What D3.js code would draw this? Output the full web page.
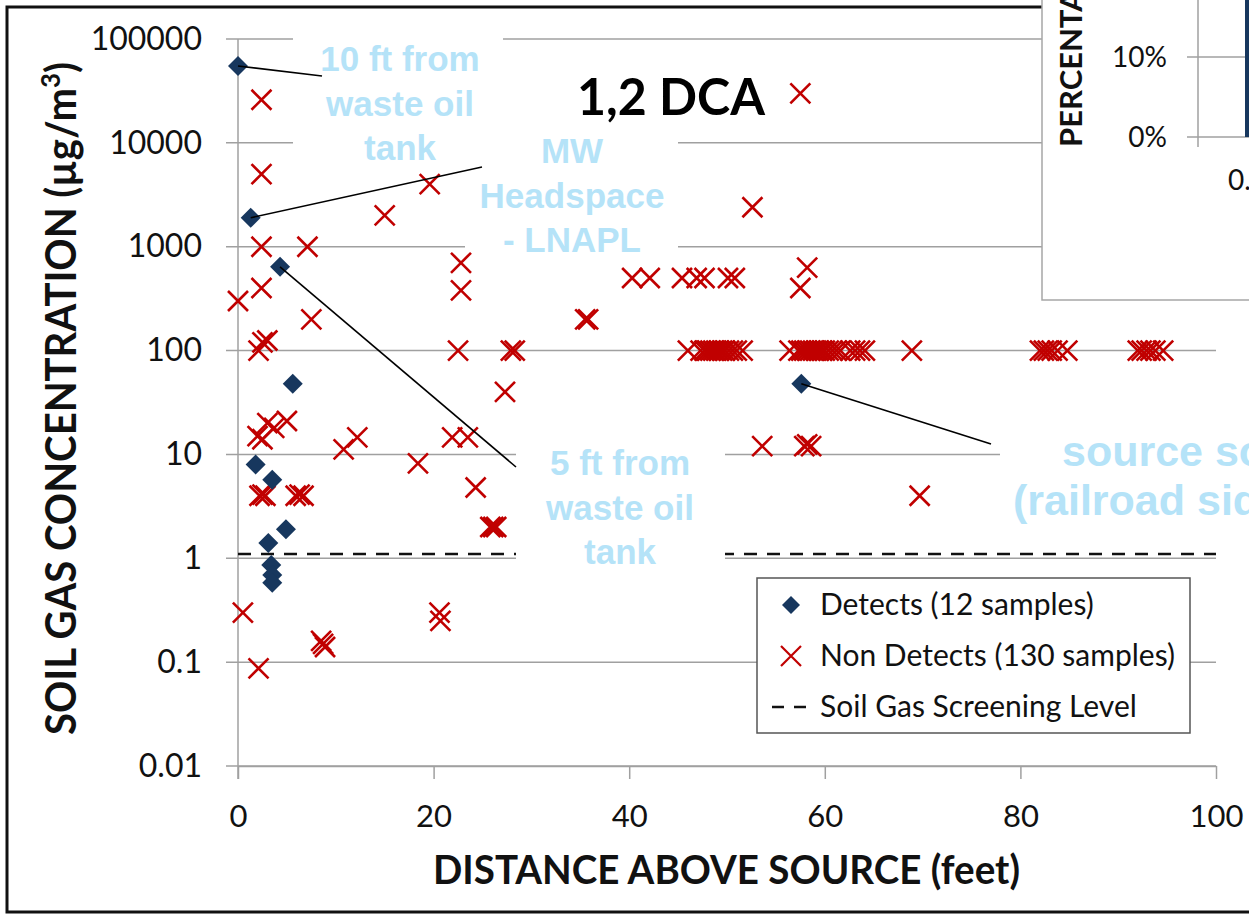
<!DOCTYPE html>
<html>
<head>
<meta charset="utf-8">
<script src="https://cdn.jsdelivr.net/npm/d3@7"></script>
<style>
  body { margin: 0; background: #fff; }
  svg { display: block; }
</style>
</head>
<body>
<script>
const svgWidth = 1249;
const svgHeight = 916;

// axis ticks
const yTicks = [0.01, 0.1, 1, 10, 100, 1000, 10000, 100000];
const xTicks = [0, 20, 40, 60, 80, 100];
const screeningLevel = 1.1;

// Detects (12 samples): distance above source (ft), concentration (ug/m3)
const detectDist = [0, 1.3, 4.3, 5.6, 1.8, 3.5, 4.9, 3.1, 3.4, 3.5, 3.5, 57.6];
const detectConc = [55000, 1900, 640, 48, 8, 5.7, 1.9, 1.4, 0.86, 0.69, 0.58, 48];

// Non Detects (130 samples) (overlapping ones are estimates)
const ndDist = [
  2.4, 2.4, 15.0, 2.4, 7.1, 2.4, 0.0, 7.5, 2.5, 3.0, 2.1,
  19.6, 22.8, 22.8, 22.5, 27.9, 28.3, 27.3, 35.5, 35.8,
  40.3, 42.1, 45.4, 46.9, 47.7, 50.1, 50.8,
  58.2, 57.5, 52.6, 57.5,
  46.0, 47.3, 47.7, 48.0, 48.3, 48.6, 48.9, 49.2, 49.5, 49.8, 50.2, 50.6, 51.0, 51.6,
  56.4, 57.3, 57.6, 57.9, 58.2, 58.5, 58.8, 59.1, 59.4, 59.7, 60.0, 60.4, 60.8, 61.2, 61.6, 62.6, 63.1, 63.6, 64.1,
  68.9,
  82.0, 82.4, 82.8, 83.2, 83.8, 84.8,
  92.0, 92.4, 92.9, 93.3, 93.8, 94.6,
  53.6, 57.9, 58.2, 58.6,
  69.7,
  2.0, 2.5, 3.0, 3.7, 5.0,
  10.8, 12.2, 18.4, 21.9, 23.5, 24.3, 25.8, 26.1, 26.4,
  2.2, 2.5, 2.8, 5.9, 6.3, 6.7,
  0.5, 20.6, 20.7, 8.5, 8.7, 8.9, 2.1
];
const ndConc = [
  26000, 5000, 2000, 1000, 1000, 400, 300, 200, 120, 125, 100,
  4000, 700, 380, 100, 100, 100, 40, 200, 200,
  500, 500, 500, 500, 500, 500, 500,
  630, 400, 2400, 30000,
  100, 100, 100, 100, 100, 100, 100, 100, 100, 100, 100, 100, 100, 100,
  100, 100, 100, 100, 100, 100, 100, 100, 100, 100, 100, 100, 100, 100, 100, 100, 100, 100, 100,
  100,
  100, 100, 100, 100, 100, 100,
  100, 100, 100, 100, 100, 100,
  12, 12, 12.5, 12,
  4,
  15, 14, 20, 18, 21,
  11.2, 14.6, 8.2, 14.6, 14.6, 4.8, 2, 2, 2,
  4, 4.1, 4, 4, 4.1, 4,
  0.3, 0.3, 0.25, 0.16, 0.15, 0.14, 0.087
];

// inset chart (partly visible)
const insetTicks = [0, 0.1];
const insetBarValue = 0.3;

const detectColor = "#17375e";
const ndColor = "#c00000";
const gridColor = "#a0a0a0";
const noteColor = "#b5e3f8";

var svg = d3.select("body").append("svg")
    .attr("id", "chart")
    .attr("width", svgWidth)
    .attr("height", svgHeight);

// outer frame
svg.append("rect")
    .attr("x", 7).attr("y", 7)
    .attr("width", 1270).attr("height", 905)
    .attr("fill", "none")
    .attr("stroke", "#111")
    .attr("stroke-width", 3);

const x = d3.scaleLinear().domain([0, 100]).range([238, 1216]);
const y = d3.scaleLog().domain([0.01, 100000]).range([766, 39]);

// gridlines (run 12px left of axis like tick marks)
svg.append("g")
    .selectAll("line")
    .data(yTicks)
    .enter().append("line")
    .attr("x1", x(0) - 12)
    .attr("x2", x(100))
    .attr("y1", d => y(d))
    .attr("y2", d => y(d))
    .attr("stroke", gridColor)
    .attr("stroke-width", 1.5);

// y axis line
svg.append("line")
    .attr("x1", x(0)).attr("x2", x(0))
    .attr("y1", y(100000)).attr("y2", y(0.01) + 13)
    .attr("stroke", gridColor)
    .attr("stroke-width", 1.5);

const yAxis = d3.axisLeft(y)
    .tickValues(yTicks)
    .tickFormat(d => String(d))
    .tickSizeInner(0)
    .tickSizeOuter(0)
    .tickPadding(36);

svg.append("g")
    .attr("transform", `translate(${x(0)},0)`)
    .call(yAxis)
    .call(g => g.select(".domain").remove())
    .selectAll("text")
    .attr("font-family", "Lato, sans-serif")
    .attr("font-size", 32)
    .attr("fill", "#111");

const xAxis = d3.axisBottom(x)
    .tickValues(xTicks)
    .tickSizeInner(13)
    .tickSizeOuter(0)
    .tickPadding(26);

const xg = svg.append("g")
    .attr("transform", `translate(0,${y(0.01)})`)
    .call(xAxis);
xg.select(".domain").attr("stroke", gridColor).attr("stroke-width", 1.5);
xg.selectAll(".tick line").attr("stroke", gridColor).attr("stroke-width", 1.5);
xg.selectAll("text")
    .attr("font-family", "Lato, sans-serif")
    .attr("font-size", 31)
    .attr("fill", "#111");

// screening level
svg.append("line")
    .attr("x1", x(0)).attr("x2", x(100))
    .attr("y1", y(screeningLevel)).attr("y2", y(screeningLevel))
    .attr("stroke", "#111")
    .attr("stroke-width", 2.5)
    .attr("stroke-dasharray", "13,10");

// white text boxes of the callouts (they hide gridlines)
const boxes = [
    [293, 30, 210, 140],
    [465, 128, 213, 130],
    [516, 440, 209, 135],
    [1000, 425, 260, 110]
];
svg.append("g")
    .selectAll("rect")
    .data(boxes)
    .enter().append("rect")
    .attr("x", d => d[0]).attr("y", d => d[1])
    .attr("width", d => d[2]).attr("height", d => d[3])
    .attr("fill", "#fff");

// non detects as x marks
const crossPath = "M-10,-10L10,10M-10,10L10,-10";
svg.append("g")
    .selectAll("path")
    .data(ndDist.map((d, i) => [d, ndConc[i]]))
    .enter().append("path")
    .attr("d", crossPath)
    .attr("transform", d => `translate(${x(d[0])},${y(d[1])})`)
    .attr("fill", "none")
    .attr("stroke", ndColor)
    .attr("stroke-width", 2.6);

// detects as diamonds
const diamondPath = "M0,-10L10,0L0,10L-10,0Z";
svg.append("g")
    .selectAll("path")
    .data(detectDist.map((d, i) => [d, detectConc[i]]))
    .enter().append("path")
    .attr("d", diamondPath)
    .attr("transform", d => `translate(${x(d[0])},${y(d[1])})`)
    .attr("fill", detectColor);

// leader lines from a detect to its label
const leaders = [
    [0, [322, 76]],
    [1, [482, 167]],
    [2, [516, 467]],
    [11, [991, 444]]
];
svg.append("g")
    .selectAll("line")
    .data(leaders)
    .enter().append("line")
    .attr("x1", d => x(detectDist[d[0]]))
    .attr("y1", d => y(detectConc[d[0]]))
    .attr("x2", d => d[1][0])
    .attr("y2", d => d[1][1])
    .attr("stroke", "#000")
    .attr("stroke-width", 1.6);

// callout texts
const notes = [
    { x: 400, y: 71, size: 35, step: 44.5, anchor: "middle", lines: ["10 ft from", "waste oil", "tank"] },
    { x: 572, y: 163, size: 35, step: 44.5, anchor: "middle", lines: ["MW", "Headspace", "- LNAPL"] },
    { x: 620, y: 475, size: 35, step: 44.5, anchor: "middle", lines: ["5 ft from", "waste oil", "tank"] },
    { x: 1062, y: 466, size: 43, step: 0, anchor: "start", lines: ["source soil"] },
    { x: 1013, y: 515, size: 43, step: 0, anchor: "start", lines: ["(railroad siding)"] }
];
notes.forEach(n => {
    n.lines.forEach((t, i) => {
        svg.append("text")
            .attr("x", n.x)
            .attr("y", n.y + i * n.step)
            .attr("text-anchor", n.anchor)
            .attr("font-family", "'Liberation Sans', Arial, sans-serif")
            .attr("font-weight", "bold")
            .attr("font-size", n.size)
            .attr("fill", noteColor)
            .text(t);
    });
});

// chart title
svg.append("text")
    .attr("x", 577)
    .attr("y", 115)
    .attr("font-family", "Lato, sans-serif")
    .attr("font-weight", "bold")
    .attr("font-size", 52)
    .attr("textLength", 188)
    .attr("lengthAdjust", "spacingAndGlyphs")
    .attr("fill", "#000")
    .text("1,2 DCA");

// axis titles
svg.append("text")
    .attr("x", 433)
    .attr("y", 884)
    .attr("font-family", "Lato, sans-serif")
    .attr("font-weight", "bold")
    .attr("font-size", 40)
    .attr("textLength", 587)
    .attr("lengthAdjust", "spacingAndGlyphs")
    .attr("fill", "#111")
    .text("DISTANCE ABOVE SOURCE (feet)");

const yTitle = svg.append("text")
    .attr("transform", "translate(76,735) rotate(-90)")
    .attr("font-family", "Lato, sans-serif")
    .attr("font-weight", "bold")
    .attr("font-size", 42)
    .attr("textLength", 673)
    .attr("lengthAdjust", "spacingAndGlyphs")
    .attr("fill", "#111");
yTitle.append("tspan").text("SOIL GAS CONCENTRATION (\u00b5g/m");
yTitle.append("tspan").attr("dy", -16).attr("font-size", 27).text("3");
yTitle.append("tspan").attr("dy", 16).text(")");

// legend
const legend = svg.append("g");
legend.append("rect")
    .attr("x", 757).attr("y", 578)
    .attr("width", 433).attr("height", 155)
    .attr("fill", "#fff")
    .attr("stroke", "#555")
    .attr("stroke-width", 1.5);
const legendRows = ["Detects (12 samples)", "Non Detects (130 samples)", "Soil Gas Screening Level"];
legendRows.forEach((t, i) => {
    const cy = 605 + i * 51;
    if (i === 0) {
        legend.append("path").attr("d", diamondPath)
            .attr("transform", `translate(791,${cy}) scale(0.9)`).attr("fill", detectColor);
    } else if (i === 1) {
        legend.append("path").attr("d", crossPath)
            .attr("transform", `translate(791,${cy})`)
            .attr("stroke", ndColor).attr("stroke-width", 2.2).attr("fill", "none");
    } else {
        legend.append("line")
            .attr("x1", 772).attr("x2", 806).attr("y1", cy).attr("y2", cy)
            .attr("stroke", "#111").attr("stroke-width", 2.5)
            .attr("stroke-dasharray", "12,10");
    }
    legend.append("text")
        .attr("x", 820)
        .attr("y", cy + 10)
        .attr("font-family", "Lato, sans-serif")
        .attr("font-size", 30)
        .attr("fill", "#111")
        .text(t);
});

// inset histogram cut off at the top right
const inset = svg.append("g");
inset.append("rect")
    .attr("x", 1042).attr("y", -5)
    .attr("width", 230).attr("height", 305)
    .attr("fill", "#fff")
    .attr("stroke", "#a6a6a6")
    .attr("stroke-width", 1.5);

const iy = d3.scaleLinear().domain([0, 0.1]).range([137, 57]);

inset.selectAll(".igrid")
    .data(insetTicks)
    .enter().append("line")
    .attr("x1", 1187).attr("x2", 1249)
    .attr("y1", d => iy(d)).attr("y2", d => iy(d))
    .attr("stroke", gridColor).attr("stroke-width", 1.5);

inset.append("line")
    .attr("x1", 1198).attr("x2", 1198)
    .attr("y1", 0).attr("y2", 147)
    .attr("stroke", gridColor).attr("stroke-width", 1.5);

inset.append("rect")
    .attr("x", 1245)
    .attr("y", iy(insetBarValue))
    .attr("width", 6)
    .attr("height", iy(0) - iy(insetBarValue))
    .attr("fill", detectColor);

inset.selectAll(".ilabel")
    .data(insetTicks)
    .enter().append("text")
    .attr("x", 1167)
    .attr("y", d => iy(d) + 10)
    .attr("text-anchor", "end")
    .attr("font-family", "Lato, sans-serif")
    .attr("font-size", 28)
    .attr("fill", "#111")
    .text(d3.format(".0%"));

inset.append("text")
    .attr("x", 1228).attr("y", 190)
    .attr("font-family", "Lato, sans-serif")
    .attr("font-size", 28)
    .attr("fill", "#111")
    .text("0.5");

inset.append("text")
    .attr("transform", "translate(1082,147) rotate(-90)")
    .attr("font-family", "Lato, sans-serif")
    .attr("font-weight", "bold")
    .attr("font-size", 31)
    .attr("fill", "#111")
    .text("PERCENTAGE");
</script>
</body>
</html>
